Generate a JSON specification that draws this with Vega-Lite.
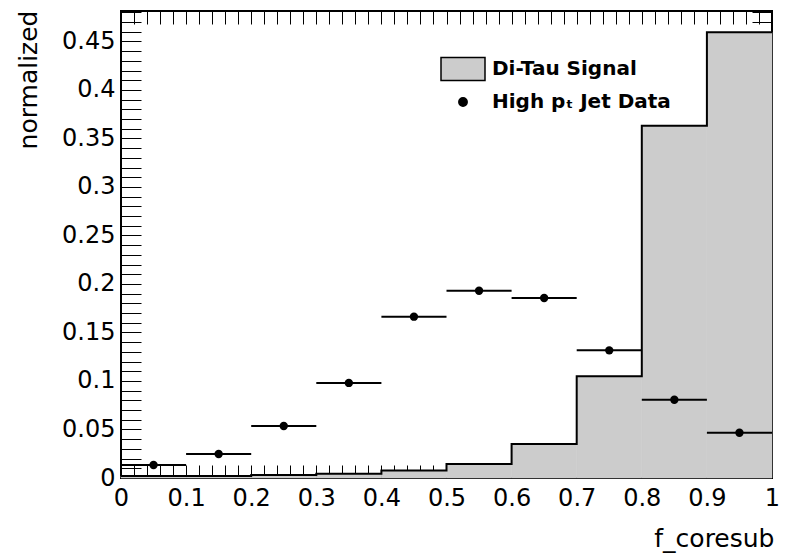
{
  "$schema": "https://vega.github.io/schema/vega-lite/v6.json",
  "width": 651,
  "height": 467,
  "autosize": "none",
  "padding": {"left": 121, "top": 11, "right": 16, "bottom": 79},
  "background": "white",
  "config": {
    "view": {"stroke": "black", "strokeWidth": 2},
    "axis": {
      "grid": false,
      "domain": false,
      "labelFont": "DejaVu Sans",
      "labelFontSize": 24,
      "labelColor": "black",
      "titleFont": "DejaVu Sans",
      "titleFontSize": 25,
      "titleFontWeight": "normal",
      "titleColor": "black",
      "tickColor": "black",
      "tickWidth": 1,
      "ticks": true,
      "zindex": 1,
      "labelOverlap": false,
      "labelFlush": false
    },
    "legend": {
      "orient": "none",
      "legendX": 319,
      "legendY": 43,
      "columns": 1,
      "padding": 0,
      "clipHeight": 30,
      "rowPadding": 3,
      "labelOffset": 6,
      "labelLimit": 400,
      "labelFont": "DejaVu Sans",
      "labelFontWeight": "bold",
      "labelFontSize": 20,
      "labelColor": "black",
      "symbolStrokeWidth": 1.5,
      "symbolStrokeColor": "black"
    }
  },
  "datasets": {
    "bins": [
      {"lo": 0.0, "hi": 0.1, "mid": 0.05, "signal": 0.002, "data": 0.0134},
      {"lo": 0.1, "hi": 0.2, "mid": 0.15, "signal": 0.002, "data": 0.0247},
      {"lo": 0.2, "hi": 0.3, "mid": 0.25, "signal": 0.003, "data": 0.0536},
      {"lo": 0.3, "hi": 0.4, "mid": 0.35, "signal": 0.0045, "data": 0.098},
      {"lo": 0.4, "hi": 0.5, "mid": 0.45, "signal": 0.0078, "data": 0.1663},
      {"lo": 0.5, "hi": 0.6, "mid": 0.55, "signal": 0.0144, "data": 0.193},
      {"lo": 0.6, "hi": 0.7, "mid": 0.65, "signal": 0.035, "data": 0.1856},
      {"lo": 0.7, "hi": 0.8, "mid": 0.75, "signal": 0.105, "data": 0.1316},
      {"lo": 0.8, "hi": 0.9, "mid": 0.85, "signal": 0.363, "data": 0.0807},
      {"lo": 0.9, "hi": 1.0, "mid": 0.95, "signal": 0.4595, "data": 0.0467}
    ]
  },
  "data": {"name": "bins"},
  "resolve": {"axis": {"x": "independent", "y": "independent"}},
  "layer": [
    {
      "mark": {"type": "rect", "stroke": "#cccccc", "strokeWidth": 0.5},
      "encoding": {
        "x": {
          "field": "lo", "type": "quantitative",
          "scale": {"domain": [0, 1], "nice": false, "zero": false},
          "axis": {
            "orient": "bottom",
            "values": [0,0.02,0.04,0.06,0.08,0.1,0.12,0.14,0.16,0.18,0.2,0.22,0.24,0.26,0.28,0.3,0.32,0.34,0.36,0.38,0.4,0.42,0.44,0.46,0.48,0.5,0.52,0.54,0.56,0.58,0.6,0.62,0.64,0.66,0.68,0.7,0.72,0.74,0.76,0.78,0.8,0.82,0.84,0.86,0.88,0.9,0.92,0.94,0.96,0.98,1],
            "format": "~g",
            "labelExpr": "abs(datum.value*10-round(datum.value*10))<0.001 ? datum.label : ''",
            "tickSize": -13,
            "labelPadding": 21.5,
            "encode": {"ticks": {"y2": {"condition": {"test": "abs(datum.value*10-round(datum.value*10))<0.001", "value": -13}, "value": -6.5}}},
            "title": "f_coresub",
            "titleAlign": "right",
            "titleAnchor": "end",
            "titleBaseline": "alphabetic",
            "titleX": 653,
            "titleY": 68
          }
        },
        "x2": {"field": "hi"},
        "y": {
          "field": "signal", "type": "quantitative",
          "scale": {"domain": [0, 0.4814], "nice": false, "zero": false},
          "axis": {
            "orient": "left",
            "values": [0,0.01,0.02,0.03,0.04,0.05,0.06,0.07,0.08,0.09,0.1,0.11,0.12,0.13,0.14,0.15,0.16,0.17,0.18,0.19,0.2,0.21,0.22,0.23,0.24,0.25,0.26,0.27,0.28,0.29,0.3,0.31,0.32,0.33,0.34,0.35,0.36,0.37,0.38,0.39,0.4,0.41,0.42,0.43,0.44,0.45,0.46,0.47,0.48],
            "format": "~g",
            "labelExpr": "abs(datum.value*20-round(datum.value*20))<0.001 ? datum.label : ''",
            "tickSize": -20,
            "labelPadding": 26,
            "encode": {"ticks": {"x2": {"condition": {"test": "abs(datum.value*20-round(datum.value*20))<0.001", "value": 20}, "value": 10}}},
            "title": "normalized",
            "titleAngle": -90,
            "titleAlign": "right",
            "titleAnchor": "end",
            "titleBaseline": "alphabetic",
            "titleX": -85,
            "titleY": -1
          }
        },
        "y2": {"datum": 0},
        "color": {
          "datum": "Di-Tau Signal",
          "scale": {"domain": ["Di-Tau Signal", "High pₜ Jet Data"], "range": ["#cccccc", "black"]},
          "legend": {"title": null}
        }
      }
    },
    {
      "transform": [{"fold": ["lo", "hi"], "as": ["edge", "xe"]}],
      "mark": {"type": "line", "color": "black", "strokeWidth": 2},
      "encoding": {
        "x": {"field": "xe", "type": "quantitative", "axis": null},
        "y": {"field": "signal", "type": "quantitative", "axis": null},
        "order": [
          {"field": "xe", "type": "quantitative", "sort": "ascending"},
          {"field": "edge", "type": "ordinal", "sort": "ascending"}
        ]
      }
    },
    {
      "mark": {"type": "rule", "color": "black", "strokeWidth": 2},
      "encoding": {
        "x": {"field": "lo", "type": "quantitative", "axis": null},
        "x2": {"field": "hi"},
        "y": {"field": "data", "type": "quantitative", "axis": null}
      }
    },
    {
      "mark": {"type": "point", "filled": true, "opacity": 1, "strokeWidth": 0},
      "encoding": {
        "x": {
          "field": "mid", "type": "quantitative",
          "axis": {
            "orient": "top",
            "labels": false,
            "title": null,
            "values": [0,0.02,0.04,0.06,0.08,0.1,0.12,0.14,0.16,0.18,0.2,0.22,0.24,0.26,0.28,0.3,0.32,0.34,0.36,0.38,0.4,0.42,0.44,0.46,0.48,0.5,0.52,0.54,0.56,0.58,0.6,0.62,0.64,0.66,0.68,0.7,0.72,0.74,0.76,0.78,0.8,0.82,0.84,0.86,0.88,0.9,0.92,0.94,0.96,0.98,1],
            "tickSize": -13,
            "encode": {"ticks": {"y2": {"condition": {"test": "abs(datum.value*10-round(datum.value*10))<0.001", "value": 13}, "value": 6.5}}}
          }
        },
        "y": {
          "field": "data", "type": "quantitative",
          "axis": {
            "orient": "right",
            "labels": false,
            "title": null,
            "values": [0,0.01,0.02,0.03,0.04,0.05,0.06,0.07,0.08,0.09,0.1,0.11,0.12,0.13,0.14,0.15,0.16,0.17,0.18,0.19,0.2,0.21,0.22,0.23,0.24,0.25,0.26,0.27,0.28,0.29,0.3,0.31,0.32,0.33,0.34,0.35,0.36,0.37,0.38,0.39,0.4,0.41,0.42,0.43,0.44,0.45,0.46,0.47,0.48],
            "tickSize": -20,
            "encode": {"ticks": {"x2": {"condition": {"test": "abs(datum.value*20-round(datum.value*20))<0.001", "value": -20}, "value": -10}}}
          }
        },
        "color": {"datum": "High pₜ Jet Data", "legend": {"title": null}},
        "shape": {
          "datum": "High pₜ Jet Data",
          "scale": {"domain": ["Di-Tau Signal", "High pₜ Jet Data"], "range": ["M-1,-0.52H1V0.52H-1Z", "circle"]},
          "legend": {"title": null}
        },
        "size": {
          "datum": "High pₜ Jet Data",
          "scale": {"type": "ordinal", "domain": ["Di-Tau Signal", "High pₜ Jet Data"], "range": [1936, 70]},
          "legend": {"title": null}
        }
      }
    }
  ]
}
